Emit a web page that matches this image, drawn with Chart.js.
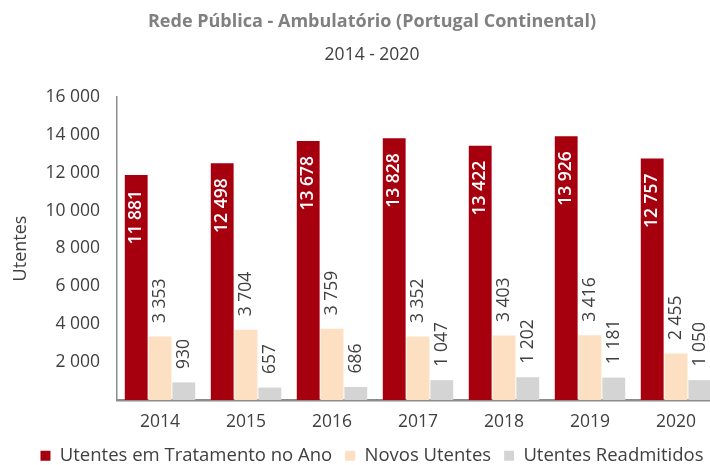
<!DOCTYPE html>
<html>
<head>
<meta charset="utf-8">
<script src="https://cdn.jsdelivr.net/npm/chart.js@4.4.0/dist/chart.umd.min.js"></script>
<style>
  html, body { margin: 0; padding: 0; overflow: hidden; background: #ffffff; }
  #wrap { width: 744px; height: 475px; }
</style>
</head>
<body>
<div id="wrap"><canvas id="chart" width="744" height="475"></canvas></div>
<script>
// Utentes da rede pública em regime ambulatório, 2014-2020
const years = ['2014', '2015', '2016', '2017', '2018', '2019', '2020'];
const emTratamento = [11881, 12498, 13678, 13828, 13422, 13926, 12757];
const novosUtentes = [3353, 3704, 3759, 3352, 3403, 3416, 2455];
const readmitidos = [930, 657, 686, 1047, 1202, 1181, 1050];
const yTickValues = [0, 2000, 4000, 6000, 8000, 10000, 12000, 14000, 16000];

const FONT = "'Open Sans', 'Noto Sans', sans-serif";
const TEXT = '#404040';

// thousands separated by a space: 11881 -> "11 881"
const fmt = n => String(n).replace(/\B(?=(\d{3})+(?!\d))/g, ' ');

// vertical value labels: white inside the top of the main bars, dark above the others
const barValueLabels = {
  id: 'barValueLabels',
  afterDatasetsDraw(chart) {
    const ctx = chart.ctx;
    chart.data.datasets.forEach((ds, di) => {
      const meta = chart.getDatasetMeta(di);
      if (meta.hidden) return;
      const inside = di === 0;
      meta.data.forEach((bar, i) => {
        ctx.save();
        ctx.translate(bar.x, inside ? bar.y + 15 : bar.y - 13.5);
        ctx.rotate(-Math.PI / 2);
        ctx.font = (inside ? '600 ' : '400 ') + '17.5px ' + FONT;
        ctx.fillStyle = inside ? '#ffffff' : TEXT;
        ctx.textBaseline = 'middle';
        ctx.textAlign = inside ? 'right' : 'left';
        ctx.fillText(fmt(ds.data[i]), 0, 0);
        ctx.restore();
      });
    });
  }
};

Chart.defaults.font.family = FONT;
Chart.defaults.color = TEXT;

new Chart(document.getElementById('chart'), {
  type: 'bar',
  data: {
    labels: years,
    datasets: [
      { label: 'Utentes em Tratamento no Ano', data: emTratamento, backgroundColor: '#A6000F' },
      { label: 'Novos Utentes', data: novosUtentes, backgroundColor: '#FDDFC1' },
      { label: 'Utentes Readmitidos', data: readmitidos, backgroundColor: '#D4D4D4' }
    ]
  },
  options: {
    responsive: false,
    animation: false,
    events: [],
    categoryPercentage: 0.83,
    barPercentage: 0.96,
    layout: { padding: 0 },
    plugins: {
      tooltip: { enabled: false },
      title: {
        display: true,
        text: 'Rede Pública - Ambulatório (Portugal Continental)',
        color: '#808080',
        font: { size: 18, weight: 'bold' },
        padding: { top: 10.6, bottom: 7 }
      },
      subtitle: {
        display: true,
        text: '2014 - 2020',
        color: TEXT,
        font: { size: 17.5 },
        padding: { top: 5, bottom: 31.8 }
      },
      legend: {
        position: 'bottom',
        labels: {
          boxWidth: 10,
          boxHeight: 10,
          padding: 13,
          color: TEXT,
          font: { size: 18.5 }
        }
      }
    },
    scales: {
      x: {
        grid: { display: false, drawTicks: false },
        border: { display: true, color: '#8c8c8c', width: 2.5 },
        ticks: { color: TEXT, font: { size: 17.5 }, padding: 12 },
        afterFit: s => { s.height = 33.5; }
      },
      y: {
        min: 0,
        max: yTickValues[yTickValues.length - 1],
        afterBuildTicks: s => { s.ticks = yTickValues.map(v => ({ value: v })); },
        grid: { display: false, drawTicks: false },
        border: { display: true, color: '#8c8c8c', width: 1.5 },
        ticks: {
          color: TEXT,
          font: { size: 17.5 },
          padding: 17,
          callback: v => (v === 0 ? '' : fmt(v))
        },
        title: {
          display: true,
          text: 'Utentes',
          color: TEXT,
          font: { size: 18 },
          padding: { top: 10.5, bottom: 0 }
        },
        afterFit: s => { s.width = 117; }
      },
      // empty right-hand axis that only reserves space beside the plot
      yRight: {
        position: 'right',
        display: true,
        grid: { display: false, drawTicks: false },
        border: { display: false },
        ticks: { display: false },
        afterFit: s => { s.width = 25; }
      }
    }
  },
  plugins: [barValueLabels]
});
</script>
</body>
</html>
